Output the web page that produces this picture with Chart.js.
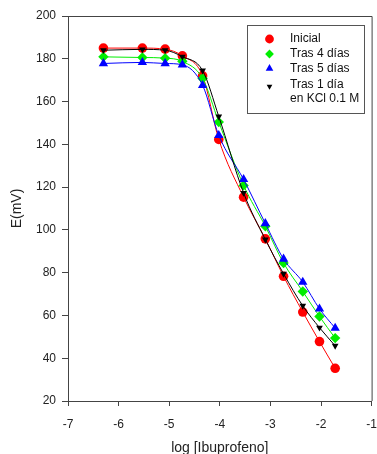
<!DOCTYPE html>
<html><head><meta charset="utf-8">
<script src="https://cdn.jsdelivr.net/npm/chart.js@4.4.0/dist/chart.umd.min.js"></script>
<style>html,body{margin:0;padding:0;background:#fff;overflow:hidden}#wrap{width:377px;height:454px;position:relative}</style>
</head><body><div id="wrap"><canvas id="c"></canvas></div>
<script>
const logConc = [-6.30, -5.53, -5.08, -4.74, -4.34, -4.02, -3.53, -3.10, -2.74, -2.36, -2.03, -1.72];
const inicial = [185.0, 185.0, 184.5, 181.4, 172.0, 142.3, 115.3, 95.8, 78.3, 61.6, 47.8, 35.3];
const tras4dias = [180.9, 180.6, 180.3, 178.8, 170.8, 150.4, 120.8, 101.7, 84.5, 71.2, 59.5, 49.4];
const tras5dias = [177.8, 178.3, 177.8, 177.2, 167.6, 144.2, 123.6, 103.0, 86.4, 75.6, 63.1, 54.1];
const tras1diaKCl = [184.0, 184.4, 184.0, 181.0, 174.5, 153.0, 117.3, 95.5, 79.5, 64.5, 54.3, 45.8];
const seriesLabels = [['Inicial'], ['Tras 4 días'], ['Tras 5 días'], ['Tras 1 día', 'en KCl 0.1 M']];
const xTicks = [-7, -6, -5, -4, -3, -2, -1];
const yTicks = [20, 40, 60, 80, 100, 120, 140, 160, 180, 200];
const xTitle = 'log [Ibuprofeno]';
const yTitle = 'E(mV)';

const FONT = '"Liberation Sans", Arial, sans-serif';
const pts = arr => arr.map((v, i) => ({x: logConc[i], y: v}));

const styles = [
  {color: '#ff0000', pointStyle: 'circle', radius: 4.8, rotation: 0, order: 4},
  {color: '#00ee00', pointStyle: 'rectRot', radius: 5.2, rotation: 0, order: 3},
  {color: '#0000ff', pointStyle: 'triangle', radius: 5.4, rotation: 0, order: 2},
  {color: '#000000', pointStyle: 'triangle', radius: 3.9, rotation: 180, order: 1}
];
const seriesData = [inicial, tras4dias, tras5dias, tras1diaKCl];

const datasets = seriesData.map((d, i) => ({
  label: seriesLabels[i].join(' '),
  data: pts(d),
  showLine: true,
  borderColor: styles[i].color,
  backgroundColor: styles[i].color,
  borderWidth: 1,
  pointStyle: styles[i].pointStyle,
  pointRadius: styles[i].radius,
  pointRotation: styles[i].rotation,
  pointBorderWidth: 0,
  pointBackgroundColor: styles[i].color,
  pointBorderColor: styles[i].color,
  cubicInterpolationMode: 'monotone',
  order: styles[i].order
}));

function drawMarker(ctx, st, x, y) {
  ctx.save();
  ctx.fillStyle = st.color; ctx.strokeStyle = st.color;
  if (Chart.helpers && Chart.helpers.drawPoint) {
    Chart.helpers.drawPoint(ctx, {pointStyle: st.pointStyle, radius: st.radius, rotation: st.rotation, borderWidth: 0}, x, y);
  } else {
    ctx.beginPath(); ctx.arc(x, y, st.radius, 0, Math.PI * 2); ctx.fill();
  }
  ctx.restore();
}

const framePlugin = {
  id: 'frame',
  afterDraw(chart) {
    const {ctx, chartArea: a} = chart;
    ctx.save();
    ctx.strokeStyle = '#444'; ctx.lineWidth = 1;
    ctx.beginPath();
    ctx.moveTo(a.left, a.top + 0.5); ctx.lineTo(a.right + 0.5, a.top + 0.5);
    ctx.lineTo(a.right + 0.5, a.bottom);
    ctx.stroke();
    // legend
    const bx = 247.5, by = 25.5, bw = 117, bh = 88;
    ctx.strokeStyle = '#555';
    ctx.strokeRect(bx, by, bw, bh);
    const rowsY = [39, 54, 68.5, 85];
    ctx.font = '12px ' + FONT;
    ctx.fillStyle = '#111';
    ctx.textBaseline = 'middle';
    ctx.textAlign = 'left';
    seriesLabels.forEach((lines, i) => {
      const my = i === 3 ? rowsY[i] + 1.5 : rowsY[i];
      drawMarker(ctx, Object.assign({}, styles[i], {radius: i === 3 ? 3.3 : 4.4}), 269.5, my);
      lines.forEach((t, j) => ctx.fillText(t, 290, rowsY[i] + j * 14));
    });
    ctx.restore();
  }
};

new Chart(document.getElementById('c'), {
  type: 'scatter',
  data: {datasets},
  options: {
    responsive: true,
    maintainAspectRatio: false,
    animation: false,
    layout: {padding: {top: 16, right: 2, left: 0, bottom: 0}},
    plugins: {legend: {display: false}, tooltip: {enabled: false}},
    scales: {
      x: {
        type: 'linear', min: -7, max: -1,
        afterBuildTicks: s => { s.ticks = xTicks.map(v => ({value: v})); },
        afterFit: s => { s.height = 53; s.paddingLeft = 0; s.paddingRight = 0; },
        grid: {display: true, drawOnChartArea: false, drawTicks: true, tickLength: 5, color: '#444'},
        border: {display: true, color: '#444', width: 1},
        ticks: {font: {family: FONT, size: 12}, color: '#222', padding: 11, maxRotation: 0, autoSkip: false},
        title: {display: true, text: xTitle, font: {family: FONT, size: 14, lineHeight: 1}, color: '#222', padding: {top: 0, bottom: -1}}
      },
      y: {
        type: 'linear', min: 20, max: 200,
        afterBuildTicks: s => { s.ticks = yTicks.map(v => ({value: v})); },
        afterFit: s => { s.width = 68; s.paddingTop = 0; s.paddingBottom = 0; },
        grid: {display: true, drawOnChartArea: false, drawTicks: true, tickLength: 6, color: '#444'},
        border: {display: true, color: '#444', width: 1},
        ticks: {font: {family: FONT, size: 12}, color: '#222', padding: 6, autoSkip: false},
        title: {display: true, text: yTitle, font: {family: FONT, size: 14}, color: '#222', padding: {top: 8.5, bottom: 0}}
      }
    }
  },
  plugins: [framePlugin]
});
</script></body></html>
